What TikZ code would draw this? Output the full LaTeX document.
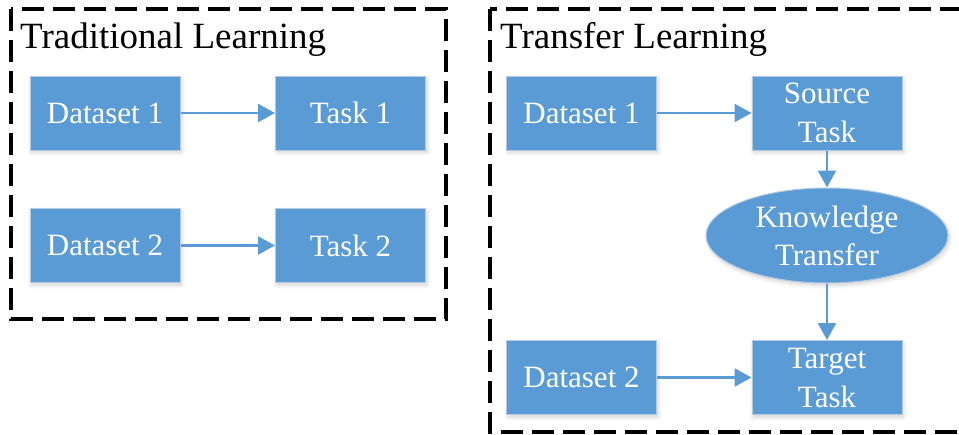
\documentclass[tikz,border=0pt]{standalone}
\usepackage{fontspec}
\setmainfont{Liberation Serif}
\newfontfamily\diagramfont{Liberation Serif}
\usetikzlibrary{arrows.meta,shapes.geometric,shadows.blur}

\definecolor{boxblue}{HTML}{5B9BD5}
\definecolor{boxedge}{HTML}{B4C9E2}

\tikzset{
  softshade/.style={blur shadow={shadow xshift=1.5pt, shadow yshift=-2.5pt,
    shadow blur radius=4pt, shadow opacity=18, shadow blur steps=6}},
  block/.style={rectangle, fill=boxblue, draw=boxedge, line width=1pt,
    minimum width=150pt, minimum height=74pt, inner sep=0pt, softshade,
    text=white, align=center, font=\diagramfont\fontsize{31}{39}\selectfont},
  oval/.style={ellipse, fill=boxblue, draw=boxedge, line width=1pt,
    minimum width=242pt, minimum height=95pt, inner sep=0pt, softshade,
    text=white, align=center, font=\diagramfont\fontsize{31}{38}\selectfont},
  flow/.style={draw=boxblue, line width=2.7pt,
    -{Triangle[length=17pt,width=18pt]}},
  frame/.style={draw=black, line width=3.2pt, dash pattern=on 22pt off 9pt},
  heading/.style={anchor=base west, inner sep=0pt,
    font=\diagramfont\fontsize{37}{44}\selectfont}
}

\begin{document}
\begin{tikzpicture}[x=1pt, y=-1pt]
  \useasboundingbox (0,0) rectangle (959,434);

  % traditional learning panel
  \draw[frame] (11,9) rectangle (446,319);
  \node[heading] (tl) at (20,48) {Traditional Learning};
  \node[block] (d1) at (105,113) {Dataset 1};
  \node[block] (t1) at (350.5,113) {Task 1};
  \node[block] (d2) at (105,245.5) {Dataset 2};
  \node[block] (t2) at (350.5,245.5) {Task 2};
  \draw[flow] (d1) -- (t1);
  \draw[flow] (d2) -- (t2);

  % transfer learning panel (its right side runs past the page edge)
  \begin{scope}
    \clip (0,0) rectangle (959,434);
    \draw[frame] (490,9) rectangle (985,432);
  \end{scope}
  \node[heading] (trl) at (500,48) {Transfer Learning};
  \node[block] (rd1) at (581.5,113) {Dataset 1};
  \node[block] (st) at (827,113) {Source\\Task};
  \node[oval] (kt) at (827,235.5) {Knowledge\\Transfer};
  \node[block] (rd2) at (581.5,377.5) {Dataset 2};
  \node[block] (tt) at (827,377.5) {Target\\Task};
  \draw[flow] (rd1) -- (st);
  \draw[flow] (st) -- (kt);
  \draw[flow] (kt) -- (tt);
  \draw[flow] (rd2) -- (tt);
\end{tikzpicture}
\end{document}
